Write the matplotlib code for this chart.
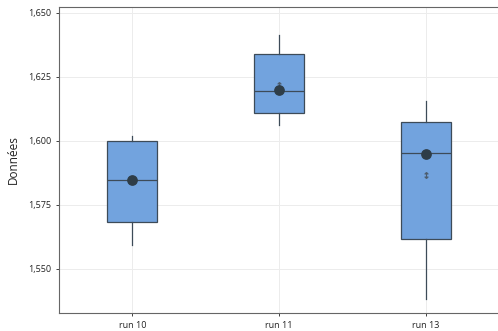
import matplotlib
matplotlib.use('Agg')
import matplotlib.pyplot as plt
from matplotlib.ticker import FuncFormatter

plt.rcParams['font.family'] = ['Open Sans', 'DejaVu Sans']

# données
runs = ['run 10', 'run 11', 'run 13']
whis_lo = [1.5594, 1.6063, 1.5383]
q1 = [1.5684, 1.6109, 1.5617]
med = [1.5848, 1.6195, 1.5953]
q3 = [1.6000, 1.6338, 1.6074]
whis_hi = [1.6020, 1.6414, 1.6156]
means = [1.5848, 1.6197, 1.5950]
sym_pts = [1.5848, 1.6220, 1.5867]

fig = plt.figure(figsize=(4.98, 3.31), dpi=100)
ax = fig.add_axes([0.1185, 0.0544, 0.8835, 0.9245])

stats = []
for i in range(len(runs)):
    stats.append(dict(whislo=whis_lo[i], q1=q1[i], med=med[i], q3=q3[i],
                      whishi=whis_hi[i], label=runs[i]))

pos = list(range(len(runs)))
ax.bxp(stats, positions=pos, widths=0.34, patch_artist=True, showfliers=False,
       showcaps=False,
       boxprops=dict(facecolor='#72a3de', edgecolor='#3d4b58', linewidth=0.9),
       medianprops=dict(color='#3d4b58', linewidth=0.9),
       whiskerprops=dict(color='#3d4b58', linewidth=0.9), zorder=3)

ax.scatter(pos, means, s=45, color='#2e3d48', zorder=5)
ax.scatter(pos, sym_pts, s=22, marker='$\u2195$', color='#4a5866', linewidths=0.3, zorder=4)

ax.set_xlim(-0.5, 2.5)
ax.set_ylim(1.5328, 1.6523)
ax.set_yticks([1.550, 1.575, 1.600, 1.625, 1.650])
ax.yaxis.set_major_formatter(FuncFormatter(lambda v, p: f'{v:.3f}'.replace('.', ',')))
ax.set_xticks(pos)
ax.set_xticklabels(runs)
ax.tick_params(labelsize=6.5, colors='#222222', length=2, width=0.6)
ax.grid(True, color='#ececec', linewidth=0.7, zorder=0)
ax.set_axisbelow(True)
for s in ax.spines.values():
    s.set_color('#666666')
    s.set_linewidth(0.8)
ax.set_ylabel('Données', fontsize=8.5, color='#222222', labelpad=6)

fig.savefig('out.png', dpi=100)
